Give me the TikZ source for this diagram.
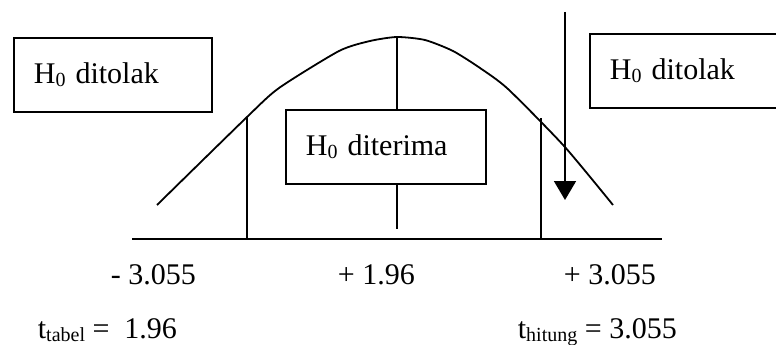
\documentclass[tikz,border=0pt]{standalone}
\usepackage{fontspec}
\setmainfont{Liberation Serif}
\usetikzlibrary{arrows.meta}
\newcommand{\lowsub}[1]{\raisebox{-3pt}{\fontsize{20}{24}\selectfont #1}}
\begin{document}
\begin{tikzpicture}[x=1pt,y=-1pt,line width=1.8pt,
  lbl/.style={font=\fontsize{30}{36}\selectfont, inner sep=0pt, anchor=base west},
  box/.style={draw, anchor=north west, font=\fontsize{30}{36}\selectfont, inner xsep=20pt, inner ysep=0pt, align=left, minimum height=74pt}]
\useasboundingbox (0,0) rectangle (776,345);
% boxes
\node[box, text width=158pt] (L) at (13,37) {H\lowsub{0} ditolak};
\node[box, text width=160pt] (M) at (285,109) {H\lowsub{0} diterima};
\node[box, text width=151pt] (R) at (589,33) {H\lowsub{0} ditolak};
% curve
\draw plot[smooth, tension=0.4] coordinates {(157,205) (247,117) (279,88) (339,51) (370,41) (397,37) (425,40) (453,51) (480,68) (508,89) (564,146) (613,205)};
% axis and verticals
\draw (132,239) -- (662,239);
\draw (247,117) -- (247,239);
\draw (541,118) -- (541,239);
\draw (397,37) -- (M.north -| 397,0);
\draw (M.south -| 397,0) -- (397,229);
% arrow
\draw[-{Triangle[width=22pt,length=19pt]}] (565,12) -- (565,200);
% labels
\node[lbl] (a) at (110,284) {- 3.055};
\node[lbl] (b) at (337,284) {+ 1.96};
\node[lbl] (c) at (563,284) {+ 3.055};
\node[lbl] (d) at (37,338) {t\lowsub{tabel} =\ \ 1.96};
\node[lbl] (e) at (517,338) {t\lowsub{hitung} = 3.055};
\end{tikzpicture}
\end{document}
